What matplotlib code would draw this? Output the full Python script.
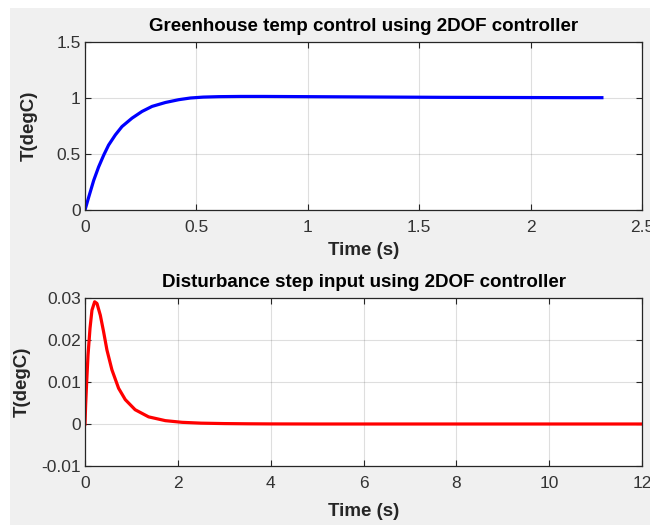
import matplotlib.pyplot as plt
import numpy as np

# reference step response
t_ref = [0, 0.0165, 0.039, 0.061, 0.084, 0.106, 0.136, 0.166, 0.211, 0.256, 0.301,
         0.361, 0.421, 0.473, 0.53, 0.6, 0.7, 0.8, 0.9, 1.0, 1.2, 1.4, 1.6, 1.8,
         2.0, 2.2, 2.32]
y_ref = [0, 0.114, 0.264, 0.384, 0.49, 0.58, 0.67, 0.745, 0.82, 0.88, 0.925,
         0.96, 0.985, 1.0, 1.008, 1.012, 1.014, 1.014, 1.013, 1.012, 1.01, 1.008, 1.006, 1.005,
         1.004, 1.003, 1.003]

# disturbance step response
t_dist = [0, 0.014, 0.036, 0.065, 0.108, 0.15, 0.208, 0.258, 0.33, 0.40, 0.473,
          0.58, 0.724, 0.868, 1.08, 1.37, 1.73, 2.09, 2.5, 3.0, 3.5, 4.0, 5.0,
          6.0, 8.0, 10.0, 12.0]
y_dist = [0, 0.0046, 0.01, 0.0164, 0.0228, 0.0271, 0.0291, 0.0287, 0.0259, 0.022, 0.0176,
          0.0129, 0.0085, 0.0058, 0.0034, 0.0017, 0.0008, 0.0004, 0.0002, 0.0001, 0.00005, 0.00002, 0.0,
          0.0, 0.0, 0.0, 0.0]

plt.rcParams['font.family'] = ['Liberation Sans', 'DejaVu Sans']

fig = plt.figure(figsize=(6.5, 5.25), dpi=100)
fig.patch.set_facecolor('white')
# grey MATLAB window area
fig.patches.append(plt.Rectangle((10 / 650, 0), 1, 1 - 8 / 525, transform=fig.transFigure,
                                 facecolor='#f0f0f0', edgecolor='none', zorder=-10))

ax1 = fig.add_axes([85 / 650, 1 - 210 / 525, 557 / 650, 168 / 525])
ax2 = fig.add_axes([85 / 650, 1 - 466 / 525, 557 / 650, 168 / 525])

ax1.plot(t_ref, y_ref, color='#0000ff', linewidth=2.3)
ax2.plot(t_dist, y_dist, color='#ff0000', linewidth=2.3)

def style(ax, title, xlab_y, ylab_x):
    ax.set_facecolor('white')
    ax.grid(True, color='#262626', alpha=0.15, linewidth=0.8)
    ax.tick_params(direction='in', top=True, right=True, length=4, width=0.8,
                   colors='#262626', labelsize=12.5)
    ax.tick_params(axis='x', pad=7)
    ax.tick_params(axis='y', pad=3)
    for tl in ax.get_xticklabels() + ax.get_yticklabels():
        tl.set_color('#333333')
    for s in ax.spines.values():
        s.set_color('#262626')
        s.set_linewidth(0.9)
    ax.set_title(title, fontsize=13.5, fontweight='bold', pad=8)
    ax.set_xlabel('Time (s)', fontsize=13.5, fontweight='bold', color='#262626', va='center')
    ax.set_ylabel('T(degC)', fontsize=13.5, fontweight='bold', color='#262626', va='center')
    ax.xaxis.set_label_coords(0.5, xlab_y)
    ax.yaxis.set_label_coords(ylab_x, 0.5)

ax1.set_xlim(0, 2.5)
ax1.set_ylim(0, 1.5)
ax1.set_xticks([0, 0.5, 1, 1.5, 2, 2.5])
ax1.set_xticklabels(['0', '0.5', '1', '1.5', '2', '2.5'])
ax1.set_yticks([0, 0.5, 1, 1.5])
ax1.set_yticklabels(['0', '0.5', '1', '1.5'])
style(ax1, 'Greenhouse temp control using 2DOF controller', -0.24, -0.1)

ax2.set_xlim(0, 12)
ax2.set_ylim(-0.01, 0.03)
ax2.set_xticks([0, 2, 4, 6, 8, 10, 12])
ax2.set_yticks([-0.01, 0, 0.01, 0.02, 0.03])
ax2.set_yticklabels(['-0.01', '0', '0.01', '0.02', '0.03'])
style(ax2, 'Disturbance step input using 2DOF controller', -0.27, -0.112)

fig.savefig('out.png', dpi=100)
